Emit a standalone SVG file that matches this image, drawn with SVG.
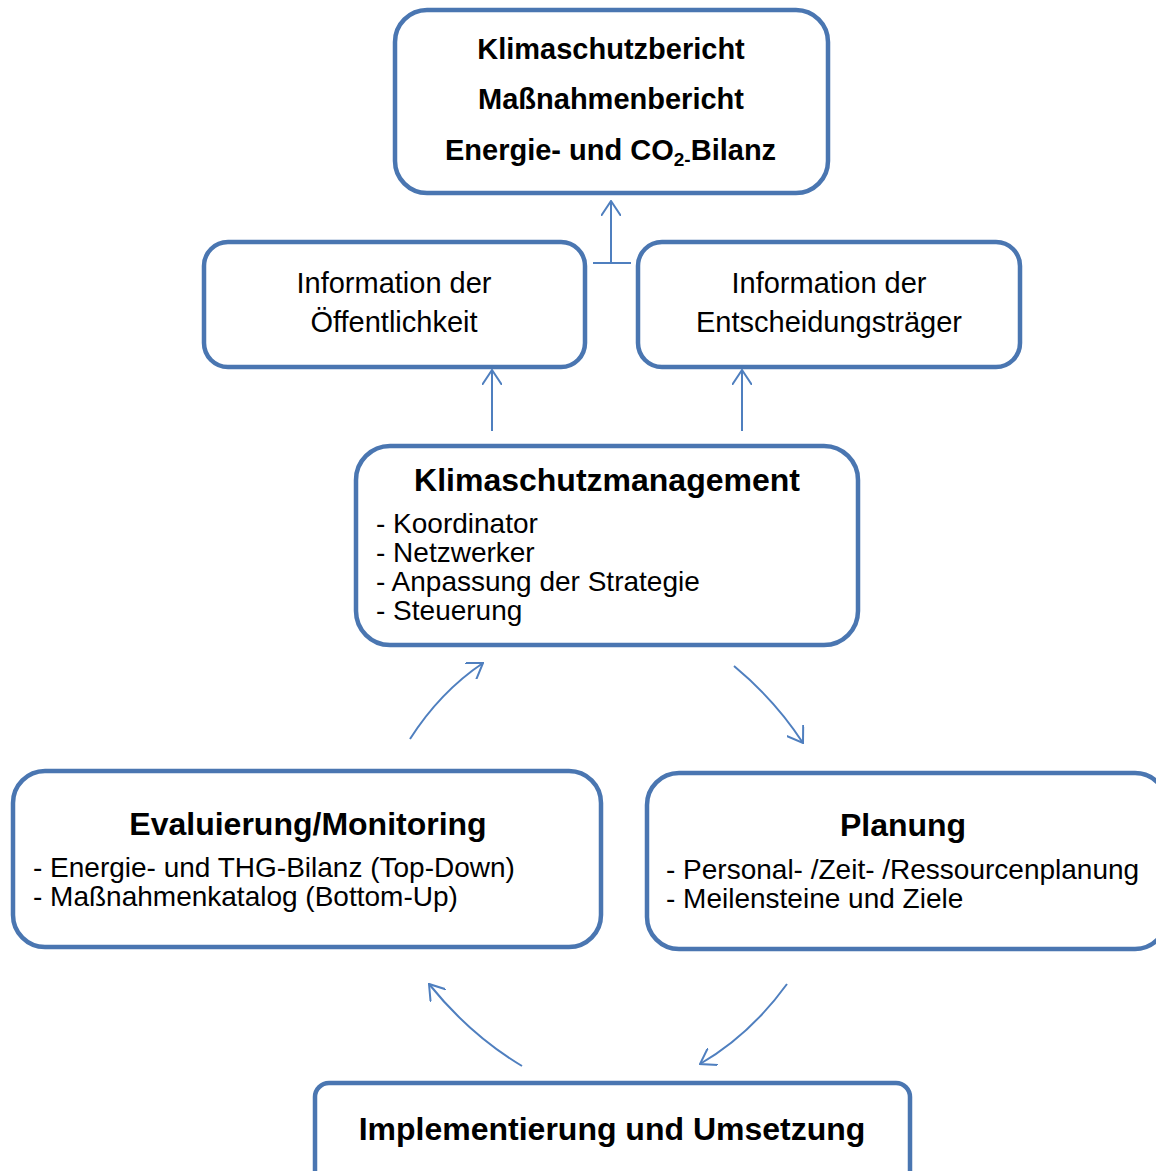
<svg xmlns="http://www.w3.org/2000/svg" width="1156" height="1171" viewBox="0 0 1156 1171">
<style>
.box{fill:#fff;stroke:#4A76B1;stroke-width:4.5}
.con{fill:none;stroke:#4F7FBF;stroke-width:2}
text{font-family:"Liberation Sans",Arial,sans-serif;fill:#000}
.b{font-weight:bold;font-size:29px}
.h{font-weight:bold;font-size:32px}
.r{font-size:28px}
.i{font-size:29px}
.c{text-anchor:middle}
</style>
<defs>
<marker id="ah" viewBox="0 0 16 20" refX="15" refY="10" markerWidth="16" markerHeight="20" markerUnits="userSpaceOnUse" orient="auto">
<path d="M0,0 L15,10 L0,20" fill="none" stroke="#4F7FBF" stroke-width="2"/>
</marker>
</defs>
<rect width="1156" height="1171" fill="#fff"/>
<g id="connectors">
<path class="con" d="M611,263 V201" marker-end="url(#ah)"/>
<path class="con" d="M593,263 H631"/>
<path class="con" d="M492,431 V370" marker-end="url(#ah)"/>
<path class="con" d="M742,431 V370" marker-end="url(#ah)"/>
<path class="con" d="M410,739 Q440,692 483,663" marker-end="url(#ah)"/>
<path class="con" d="M734,666 Q775,700 803,743" marker-end="url(#ah)"/>
<path class="con" d="M522,1066 Q470,1035 429,984" marker-end="url(#ah)"/>
<path class="con" d="M787,984 Q750,1035 700,1064" marker-end="url(#ah)"/>
</g>
<g id="bericht">
<rect class="box" x="395" y="10" width="433" height="183" rx="32"/>
<text class="b c" x="611" y="59">Klimaschutzbericht</text>
<text class="b c" x="611" y="109">Maßnahmenbericht</text>
<text class="b" x="445" y="160">Energie- und CO<tspan font-size="19" dy="6">2-</tspan><tspan dy="-6">Bilanz</tspan></text>
</g>
<g id="oeffentlichkeit">
<rect class="box" x="204" y="242" width="381" height="125" rx="24"/>
<text class="i c" x="394" y="293">Information der</text>
<text class="i c" x="394" y="332">Öffentlichkeit</text>
</g>
<g id="entscheidung">
<rect class="box" x="638" y="242" width="382" height="125" rx="24"/>
<text class="i c" x="829" y="293">Information der</text>
<text class="i c" x="829" y="332">Entscheidungsträger</text>
</g>
<g id="management">
<rect class="box" x="356" y="446" width="502" height="199" rx="34"/>
<text class="h c" x="607" y="491">Klimaschutzmanagement</text>
<text class="r" x="376" y="533">- Koordinator</text>
<text class="r" x="376" y="562">- Netzwerker</text>
<text class="r" x="376" y="591">- Anpassung der Strategie</text>
<text class="r" x="376" y="620">- Steuerung</text>
</g>
<g id="evaluierung">
<rect class="box" x="13" y="771" width="588" height="176" rx="32"/>
<text class="h c" x="308" y="835">Evaluierung/Monitoring</text>
<text class="r" x="33" y="877">- Energie- und THG-Bilanz (Top-Down)</text>
<text class="r" x="33" y="906">- Maßnahmenkatalog (Bottom-Up)</text>
</g>
<g id="planung">
<rect class="box" x="647" y="773" width="520" height="176" rx="32"/>
<text class="h c" x="903" y="836">Planung</text>
<text class="r" x="666" y="879">- Personal- /Zeit- /Ressourcenplanung</text>
<text class="r" x="666" y="908">- Meilensteine und Ziele</text>
</g>
<g id="umsetzung">
<rect class="box" x="315" y="1083" width="595" height="120" rx="14"/>
<text class="h c" x="612" y="1140">Implementierung und Umsetzung</text>
</g>
</svg>
